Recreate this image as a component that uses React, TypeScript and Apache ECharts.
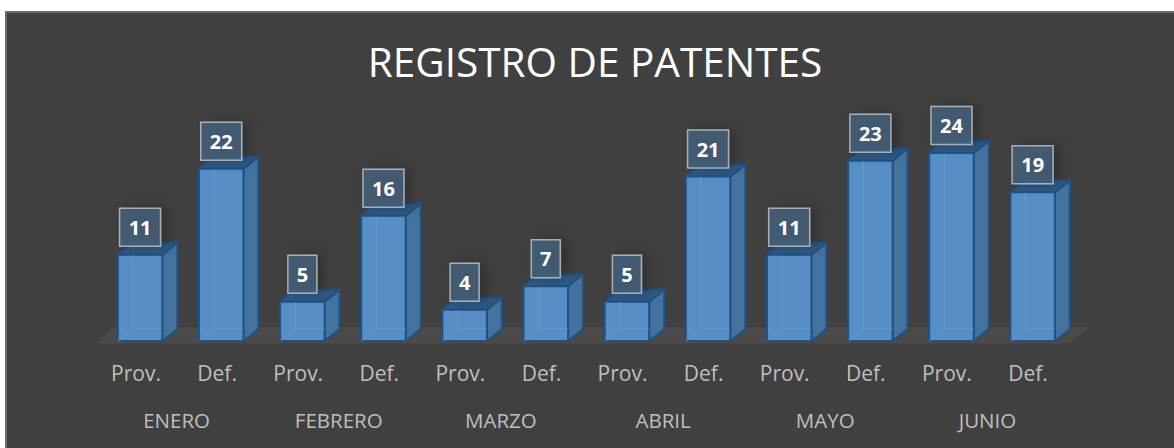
import React, { useEffect, useRef } from "react";
import * as echarts from "echarts";

const months = ["ENERO", "FEBRERO", "MARZO", "ABRIL", "MAYO", "JUNIO"];
const kinds = ["Prov.", "Def.", "Prov.", "Def.", "Prov.", "Def.", "Prov.", "Def.", "Prov.", "Def.", "Prov.", "Def."];
const values = [11, 22, 5, 16, 4, 7, 5, 21, 11, 23, 24, 19];
const FONT = '"Open Sans", "Noto Sans", sans-serif';

export default function App() {
  const ref = useRef<HTMLDivElement>(null);
  useEffect(() => {
    const chart = echarts.init(ref.current!, null, { renderer: "svg" });
    const renderBar = (params: any, api: any) => {
      const idx = api.value(0);
      const v = api.value(1);
      const [cx, top] = api.coord([idx, v]);
      const [, base] = api.coord([idx, 0]);
      const hw = 22.25;
      const dx = 15;
      const dy = -12;
      const l = cx - hw;
      const r = cx + hw;
      const edge = { stroke: "#1f5286", lineWidth: 2, lineJoin: "round" };
      const faint = { stroke: "rgba(110,170,230,0.35)", lineWidth: 1.5, fill: "none" };
      return {
        type: "group",
        children: [
          { type: "polygon", shape: { points: [[r, top], [r + dx, top + dy], [r + dx, base + dy], [r, base]] }, style: { fill: "#44729f", ...edge } },
          { type: "polygon", shape: { points: [[l, top], [l + dx, top + dy], [r + dx, top + dy], [r, top]] }, style: { fill: "#2f5a84", ...edge } },
          { type: "rect", shape: { x: l, y: top, width: 2 * hw, height: base - top }, style: { fill: "#568ec5", ...edge } },
          { type: "polyline", shape: { points: [[l + dx, top], [l + dx, base + dy], [r, base + dy]] }, style: faint },
          { type: "line", shape: { x1: l, y1: base, x2: l + dx, y2: base + dy }, style: faint },
        ],
      };
    };
    const renderLabel = (params: any, api: any) => {
      const idx = api.value(0);
      const v = api.value(1);
      const [cx, top] = api.coord([idx, v]);
      const w = String(v).length > 1 ? 41 : 29;
      const h = 38;
      const y = top - 8.5 - h;
      return {
        type: "group",
        children: [
          { type: "rect", shape: { x: cx - w / 2, y, width: w, height: h }, style: { fill: "rgba(68,96,124,0.82)", stroke: "#a9afb5", lineWidth: 1.5, shadowBlur: 12, shadowColor: "rgba(0,0,0,0.3)", shadowOffsetX: 6, shadowOffsetY: 0 } },
          { type: "text", x: cx, y: y + h / 2, style: { text: String(v), fill: "#ffffff", font: `bold 20px ${FONT}`, align: "center", verticalAlign: "middle" } },
        ],
      };
    };
    const seriesData = values.map((v, i) => [i, v]);
    chart.setOption({
      animation: false,
      backgroundColor: "#ffffff",
      textStyle: { fontFamily: FONT },
      graphic: [
        { type: "rect", z: -10, shape: { x: 6, y: 12, width: 1200, height: 460 }, style: { fill: "#404040", stroke: "#6a6a6a", lineWidth: 2 } },
        { type: "polygon", z: -9, shape: { points: [[95, 343.5], [115, 327], [1090, 327], [1068, 343.5]] }, style: { fill: "#4c4949" } },
      ],
      title: {
        text: "REGISTRO DE PATENTES",
        left: 590,
        top: 56,
        textAlign: "center",
        textVerticalAlign: "middle",
        textStyle: { color: "#ffffff", fontSize: 40.5, fontWeight: "normal", fontFamily: FONT },
      },
      grid: [
        { left: 99.5, width: 973.7, top: 106, height: 235 },
        { left: 95.5, width: 973, top: 106, height: 235 },
      ],
      xAxis: [
        {
          type: "category",
          gridIndex: 0,
          data: kinds,
          position: "bottom",
          axisLine: { show: false },
          axisTick: { show: false },
          axisLabel: { show: false },
        },
        {
          type: "category",
          gridIndex: 1,
          data: kinds,
          position: "bottom",
          axisLine: { show: false },
          axisTick: { show: false },
          axisLabel: { color: "#bfbfbf", fontSize: 21, margin: 21, interval: 0, fontFamily: FONT },
        },
        {
          type: "category",
          gridIndex: 1,
          data: months,
          position: "bottom",
          axisLine: { show: false },
          axisTick: { show: false },
          axisLabel: { color: "#bfbfbf", fontSize: 20.5, margin: 68, interval: 0, fontFamily: FONT },
        },
      ],
      yAxis: [
        { type: "value", gridIndex: 0, min: 0, max: 30, show: false, splitLine: { show: false } },
        { type: "value", gridIndex: 1, min: 0, max: 30, show: false, splitLine: { show: false } },
      ],
      series: [
        { type: "custom", renderItem: renderBar, data: seriesData, encode: { x: 0, y: 1 }, clip: false, z: 2, silent: true },
        { type: "custom", renderItem: renderLabel, data: seriesData, encode: { x: 0, y: 1 }, clip: false, z: 3, silent: true },
      ],
    });
    return () => chart.dispose();
  }, []);
  return (
    <div ref={ref} style={{ position: "absolute", left: 0, top: 0, width: 1174, height: 448 }} />
  );
}
